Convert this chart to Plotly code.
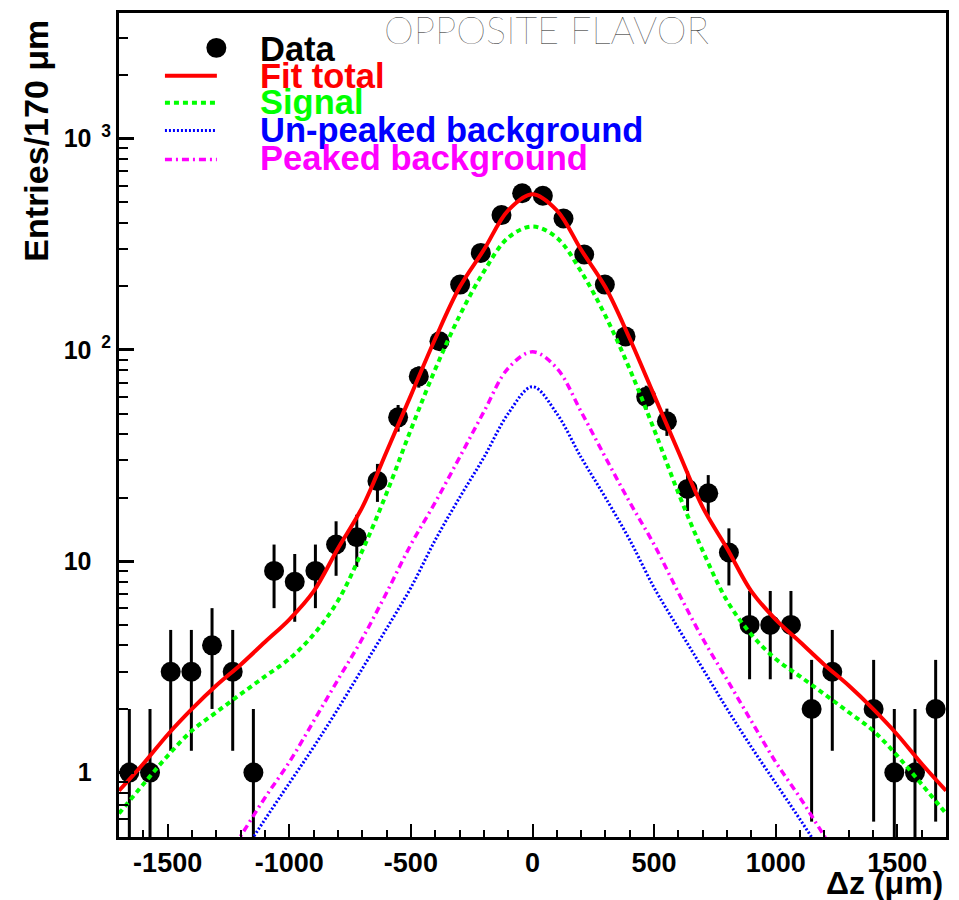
import numpy as np
import plotly.graph_objects as go

# ---------------- data ----------------
bin_low = -1700.0
bin_width = 85.0
counts = [1, 1, 3, 3, 4, 3, 1, 9, 8, 9, 12, 13, 24, 48, 75, 110, 204, 288, 435, 552,
          537, 419, 283, 204, 116, 60, 46, 22, 21, 11, 5, 5, 5, 2, 3, 0, 2, 1, 1, 2]

curve_x = [-1700, -1600, -1500, -1400, -1300, -1200, -1100, -1000, -900, -800, -700, -600,
           -500, -400, -300, -200, -100, 0, 100, 200, 300, 400, 500, 600, 700, 800, 900,
           1000, 1100, 1200, 1300, 1400, 1500, 1600, 1700]
fit_total = [0.82, 1.1, 1.51, 2.0, 2.58, 3.24, 4.15, 5.3, 7.2, 11.5, 18, 33, 61, 113, 198, 298,
             458, 546, 458, 298, 198, 113, 61, 33, 18, 11.5, 7.2, 5.3, 4.15, 3.24, 2.58, 2.0,
             1.51, 1.1, 0.82]
signal = [0.64, 0.88, 1.2, 1.58, 1.93, 2.35, 2.85, 3.45, 4.5, 6.5, 11.2, 21, 42, 81, 145, 235,
          340, 384, 340, 235, 145, 81, 42, 21, 11.2, 6.5, 4.5, 3.45, 2.85, 2.35, 1.93, 1.58,
          1.2, 0.88, 0.64]

bg_x = [-1300, -1200, -1100, -1000, -900, -800, -700, -600, -500, -400, -300, -200, -100, 0,
        100, 200, 300, 400, 500, 600, 700, 800, 900, 1000, 1100, 1200, 1300]
unpeaked_bkg = [0.27, 0.4, 0.6, 0.89, 1.32, 2.0, 3.1, 4.8, 7.5, 12.6, 20, 31, 50, 67, 50, 31,
                20, 12.6, 7.5, 4.8, 3.1, 2.0, 1.32, 0.89, 0.6, 0.4, 0.27]
peaked_bkg = [0.33, 0.5, 0.76, 1.12, 1.75, 2.75, 4.3, 7.1, 12, 19, 31, 51, 82, 98, 82, 51, 31,
              19, 12, 7.1, 4.3, 2.75, 1.75, 1.12, 0.76, 0.5, 0.33]

x_tick_vals = [-1500, -1000, -500, 0, 500, 1000, 1500]
x_tick_text = ["-1500", "-1000", "-500", "0", "500", "1000", "1500"]
y_tick_vals = [1, 10, 100, 1000]
y_tick_sup = ["", "", "2", "3"]
y_tick_base = ["1", "10", "10", "10"]

legend_labels = ["Data", "Fit total", "Signal", "Un-peaked background", "Peaked background"]
legend_colors = ["#000000", "#ff0000", "#00ff00", "#0000ff", "#ff00ff"]

# ---------------- layout geometry ----------------
W, H = 959, 900
L, R, T, B = 119, 947, 10, 837
PW, PH = R - L, B - T


def fx(p):
    return (p - L) / PW


def fy(p):
    return (B - p) / PH


FONT = "Liberation Sans, Arial, Helvetica, sans-serif"

centers = bin_low + bin_width * (np.arange(len(counts)) + 0.5)
y_plot = [c if c > 0 else None for c in counts]
y_err = [float(np.sqrt(c)) for c in counts]

fig = go.Figure()
fig.add_trace(go.Scatter(
    x=centers, y=y_plot, mode="markers",
    marker=dict(size=20, color="black", line=dict(width=0)),
    error_y=dict(type="data", array=y_err, color="black", thickness=3, width=0),
))

styles = {
    "unpeaked": dict(color="#0000ff", width=3, dash="2px,2px"),
    "peaked": dict(color="#ff00ff", width=3.5, dash="7px,4px,2px,4px"),
    "signal": dict(color="#00ff00", width=4, dash="5px,4px"),
    "fit": dict(color="#ff0000", width=4, dash="solid"),
}
fig.add_trace(go.Scatter(x=bg_x, y=unpeaked_bkg, mode="lines",
                         line=dict(shape="spline", **styles["unpeaked"])))
fig.add_trace(go.Scatter(x=bg_x, y=peaked_bkg, mode="lines",
                         line=dict(shape="spline", **styles["peaked"])))
fig.add_trace(go.Scatter(x=curve_x, y=signal, mode="lines",
                         line=dict(shape="spline", **styles["signal"])))
fig.add_trace(go.Scatter(x=curve_x, y=fit_total, mode="lines",
                         line=dict(shape="spline", **styles["fit"])))

pad = "<span style='color:rgba(0,0,0,0)'>&nbsp;&nbsp;0</span>"
y_tick_text = []
for base, sup in zip(y_tick_base, y_tick_sup):
    if sup:
        y_tick_text.append(base + "<sup>&nbsp;&nbsp;" + sup + "</sup>")
    else:
        y_tick_text.append(base + "<sup>" + pad + "</sup>")

fig.update_layout(
    width=W, height=H,
    margin=dict(l=L, r=W - R, t=T, b=H - B, pad=0),
    paper_bgcolor="white", plot_bgcolor="white",
    showlegend=False,
    xaxis=dict(
        range=[-1700, 1700], showgrid=False, zeroline=False,
        showline=True, linewidth=3, linecolor="black", mirror=True,
        ticks="inside", ticklen=13, tickwidth=2, tickcolor="black",
        tickvals=x_tick_vals, ticktext=x_tick_text,
        tickfont=dict(family=FONT, size=27, color="black", weight="bold"),
        ticklabelstandoff=0,
        minor=dict(ticks="inside", ticklen=7, tickwidth=2, tickcolor="black",
                   dtick=100, showgrid=False),
    ),
    yaxis=dict(
        type="log", range=[-0.305, 3.595], showgrid=False, zeroline=False,
        showline=True, linewidth=3, linecolor="black", mirror=True,
        ticks="inside", ticklen=15, tickwidth=3, tickcolor="black",
        tickvals=y_tick_vals, ticktext=y_tick_text,
        tickfont=dict(family=FONT, size=25, color="black", weight="bold"),
        minor=dict(ticks="inside", ticklen=9, tickwidth=2, tickcolor="black",
                   dtick="D1", showgrid=False),
    ),
)

annotations = []
shapes = []

# title
annotations.append(dict(text="OPPOSITE FLAVOR", x=fx(547), y=fy(26.5), xref="paper", yref="paper",
                        xanchor="center", yanchor="middle", showarrow=False,
                        font=dict(family="Lato, Roboto, sans-serif", size=38, color="#111111",
                                  weight=200)))
# axis titles
annotations.append(dict(text="<b>\u0394z (\u03bcm)</b>", x=fx(946), y=fy(883), xref="paper",
                        yref="paper", xanchor="right", yanchor="middle", showarrow=False,
                        font=dict(family=FONT, size=32, color="black")))
annotations.append(dict(text="<b>Entries/170 \u03bcm</b>", x=fx(35), y=fy(138), xref="paper",
                        yref="paper", xanchor="center", yanchor="middle", showarrow=False,
                        textangle=-90, font=dict(family=FONT, size=34, color="black")))

# legend
row_y = [46.5, 73.5, 99.5, 127, 155.5]
line_y = [45, 73, 100, 128, 157]
for lab, col, ty in zip(legend_labels, legend_colors, row_y):
    annotations.append(dict(text="<b>" + lab + "</b>", x=fx(258), y=fy(ty), xref="paper",
                            yref="paper", xanchor="left", yanchor="middle", showarrow=False,
                            font=dict(family=FONT, size=34.5, color=col)))
shapes.append(dict(type="circle", xref="paper", yref="paper", x0=fx(206.5), x1=fx(226.5),
                   y0=fy(55), y1=fy(35), fillcolor="black", line=dict(width=0)))
for key, ly in zip(["fit", "signal", "unpeaked", "peaked"], line_y[1:]):
    st = styles[key]
    shapes.append(dict(type="line", xref="paper", yref="paper", x0=fx(165), x1=fx(217),
                       y0=fy(ly), y1=fy(ly),
                       line=dict(color=st["color"], width=st["width"], dash=st["dash"])))

fig.update_layout(annotations=annotations, shapes=shapes)
fig.write_html("out.html")
